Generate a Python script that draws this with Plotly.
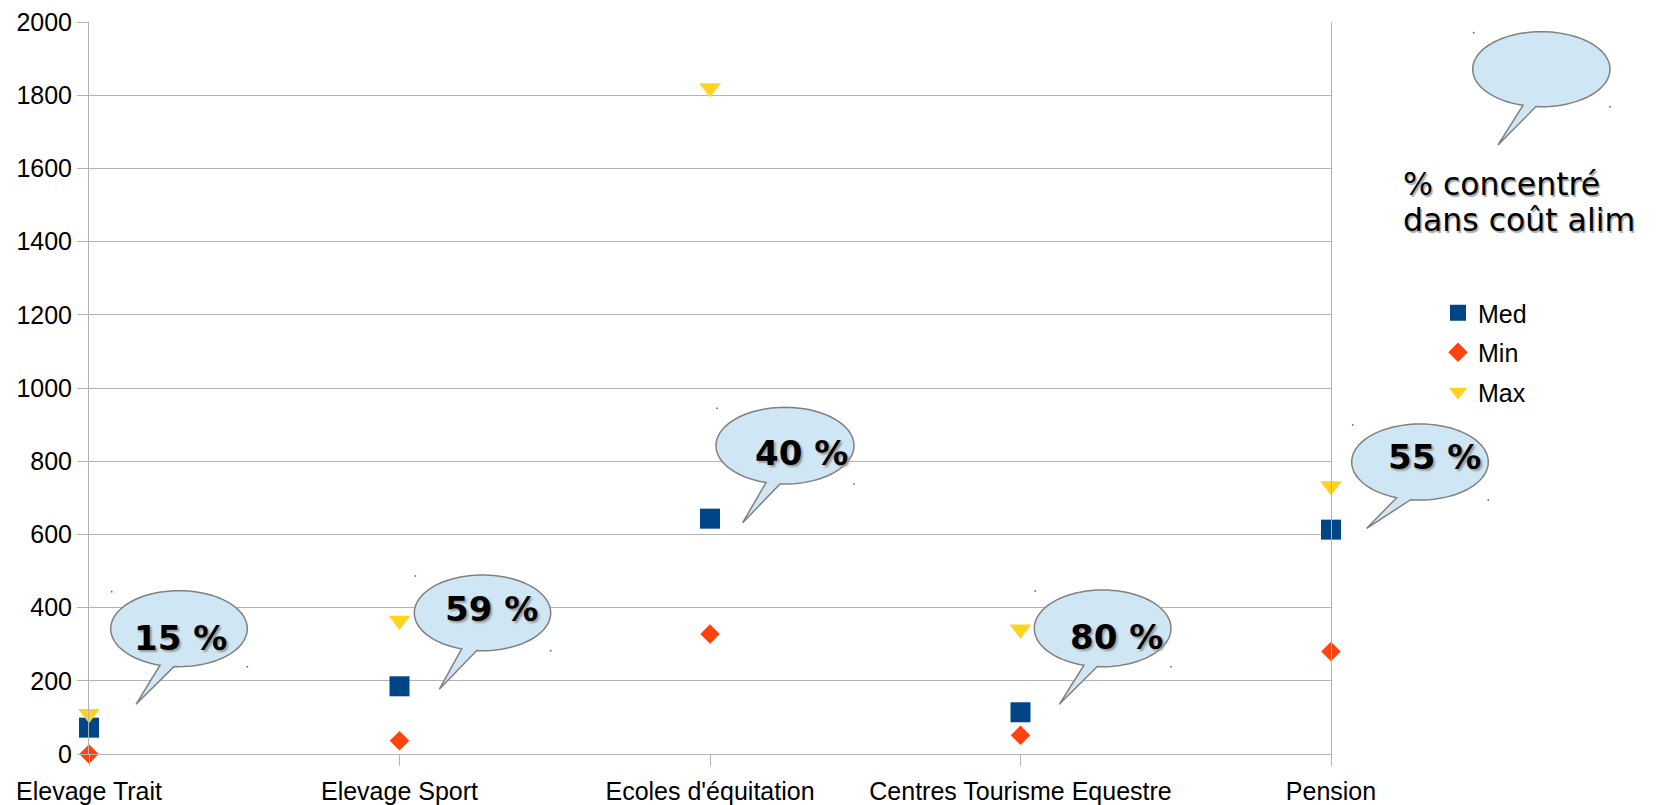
import numpy as np
import plotly.graph_objects as go

# ---------------- data ----------------
categories = ["Elevage Trait", "Elevage Sport", "Ecoles d'équitation",
              "Centres Tourisme Equestre", "Pension"]
med_values = [72, 185, 643, 114, 613]
min_values = [0, 36, 328, 51, 280]
max_values = [110, 365, 1820, 341, 732]
bubble_labels = ["15 %", "59 %", "40 %", "80 %", "55 %"]
y_tick_values = list(range(0, 2001, 200))
note_lines = ["% concentré", "dans coût alim"]

# ---------------- layout geometry (pixels) ----------------
W, H = 1657, 805
PL, PR, PT, PB = 89, 1331, 22, 754


def px(x):
    return (x - PL) / (PR - PL)


def py(y):
    return (PB - y) / (PB - PT)


GRID = "#b3b3b3"
COL_MED = "#004586"
COL_MIN = "#ff420e"
COL_MAX = "#ffd320"

fig = go.Figure()
fig.add_trace(go.Scatter(x=categories, y=med_values, mode="markers", name="Med",
                         marker=dict(symbol="square", size=20, color=COL_MED),
                         cliponaxis=False, legendgroup="a"))
fig.add_trace(go.Scatter(x=categories, y=min_values, mode="markers", name="Min",
                         marker=dict(symbol="diamond", size=15, color=COL_MIN),
                         cliponaxis=False, legendgroup="b"))
fig.add_trace(go.Scatter(x=categories, y=max_values, mode="markers", name="Max",
                         marker=dict(symbol="triangle-down", size=19, color=COL_MAX),
                         cliponaxis=False, legendgroup="c"))

# ---------------- speech bubbles ----------------
# (bbox x0, x1, y0, y1, tail base left x, tail base right x, tip x, tip y)
bubbles = [
    (1472.7, 1610, 31.7, 106.7, 1523, 1536, 1498, 145),
    (110.7, 247.3, 590.7, 666.7, 160, 174, 136, 704.3),
    (414.3, 550.7, 575, 650.7, 461.7, 476.7, 439.3, 689.3),
    (716, 854, 407.3, 484, 766, 780, 742.7, 522.7),
    (1034.3, 1171, 590, 666.7, 1084, 1097.3, 1059.3, 704.3),
    (1351.7, 1488.3, 424, 500, 1396.7, 1410.7, 1366.7, 528.3),
]
label_pos = [  # centre x, cap-top, baseline
    (180, 626.7, 650),
    (491.7, 597.3, 620.7),
    (801.7, 441.7, 464.3),
    (1116.7, 625, 648.3),
    (1434.5, 445, 469.3),
]

shapes = []
for (x0, x1, y0, y1, bl, br, tx, ty) in bubbles:
    cx, cy = (x0 + x1) / 2, (y0 + y1) / 2
    rx, ry = (x1 - x0) / 2, (y1 - y0) / 2
    tl = np.arccos(np.clip((bl - cx) / rx, -1, 1))
    tr = np.arccos(np.clip((br - cx) / rx, -1, 1))
    ts = np.linspace(tl, 2 * np.pi + tr, 90)
    pts = [(cx + rx * np.cos(t), cy + ry * np.sin(t)) for t in ts]
    pts.append((tx, ty))
    path = "M" + " L".join(f"{px(a):.5f},{py(b):.5f}" for a, b in pts) + " Z"
    shapes.append(dict(type="path", xref="paper", yref="paper", path=path,
                       fillcolor="#cfe7f5", line=dict(color="#808080", width=1.5),
                       layer="above"))
    for (dx, dy) in [(x0 + 1, y0 + 1), (x1, y1)]:
        shapes.append(dict(type="rect", xref="paper", yref="paper",
                           x0=px(dx - 0.8), x1=px(dx + 0.8), y0=py(dy - 0.8), y1=py(dy + 0.8),
                           fillcolor="#666666", line=dict(width=0), layer="above"))

annotations = []
for lab, (cxp, top, base) in zip(bubble_labels, label_pos):
    annotations.append(dict(
        xref="paper", yref="paper", x=px(cxp), y=py((top + base) / 2),
        xanchor="center", yanchor="middle", showarrow=False, text=lab,
        font=dict(family="DejaVu Sans", size=34, color="black", weight="bold",
                  shadow="2px 2px 2px #9a9a9a")))

for line, base in zip(note_lines, [195, 231.7]):
    annotations.append(dict(
        xref="paper", yref="paper", x=px(1401), y=py(base - 0.3645 * 31.5),
        xanchor="left", yanchor="middle", showarrow=False, text=line,
        font=dict(family="DejaVu Sans", size=31.5, color="black",
                  shadow="1.5px 1.5px 1px #a8a8a8")))

fig.update_layout(
    width=W, height=H,
    margin=dict(l=PL, r=W - PR, t=PT, b=H - PB, autoexpand=False),
    paper_bgcolor="white", plot_bgcolor="white",
    font=dict(family="Liberation Sans", size=25, color="black"),
    showlegend=True,
    legend=dict(x=px(1438), y=py(290), xanchor="left", yanchor="top",
                xref="paper", yref="paper", bgcolor="rgba(0,0,0,0)",
                font=dict(family="Liberation Sans", size=25, color="black"),
                tracegroupgap=4, itemsizing="trace"),
    shapes=shapes,
    annotations=annotations,
)
fig.update_xaxes(type="category", categoryorder="array", categoryarray=categories,
                 range=[0, len(categories) - 1], showgrid=False,
                 showline=True, linecolor=GRID, linewidth=1,
                 ticks="outside", ticklen=11, tickcolor=GRID, tickwidth=1,
                 ticklabelstandoff=4,
                 tickfont=dict(family="Liberation Sans", size=25, color="black"))
fig.update_yaxes(range=[0, 2000], tickvals=y_tick_values, showgrid=True,
                 gridcolor=GRID, gridwidth=1, zeroline=False,
                 showline=True, linecolor=GRID, linewidth=1, mirror=True,
                 ticks="outside", ticklen=11, tickcolor=GRID, tickwidth=1,
                 ticklabelstandoff=0,
                 tickfont=dict(family="Liberation Sans", size=25, color="black"))

fig.write_html("out.html", config={"displayModeBar": False},
               post_script="document.body.style.margin='0';document.body.style.overflow='hidden';")
